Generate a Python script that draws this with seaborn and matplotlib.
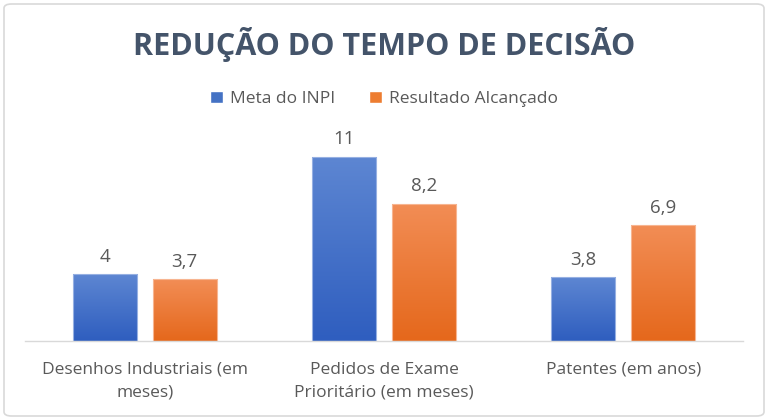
import matplotlib
matplotlib.use("Agg")
import matplotlib.pyplot as plt
import seaborn as sns
import numpy as np
import pandas as pd
from matplotlib.patches import FancyBboxPatch
from matplotlib.colors import to_rgb

categories = ["Desenhos Industriais (em\nmeses)", "Pedidos de Exame\nPrioritário (em meses)", "Patentes (em anos)"]
series = ["Meta do INPI", "Resultado Alcançado"]
meta = [4, 11, 3.8]
resultado = [3.7, 8.2, 6.9]
value_labels_meta = ["4", "11", "3,8"]
value_labels_res = ["3,7", "8,2", "6,9"]

df = pd.DataFrame({
    "cat": categories * 2,
    "serie": [series[0]] * 3 + [series[1]] * 3,
    "val": meta + resultado,
})

sns.set_theme(style="white")
plt.rcParams['font.family'] = ['Open Sans', 'DejaVu Sans']

fig = plt.figure(figsize=(7.68, 4.2), dpi=100)
ax = fig.add_axes([25/768, 79/420, 718/768, 201/420])

palette = {series[0]: "#4472C4", series[1]: "#ED7D31"}
sns.barplot(data=df, x="cat", y="val", hue="serie", palette=palette, width=0.67, gap=0.2,
            ax=ax, legend=True, saturation=1)

grads = {series[0]: ("#5D86D2", "#2F5EBF"), series[1]: ("#F28D55", "#E5681C")}
labels_all = {series[0]: value_labels_meta, series[1]: value_labels_res}

bars = [p for p in ax.patches if p.get_height() > 0]
bars.sort(key=lambda p: p.get_x())
for i, p in enumerate(bars):
    s = series[i % 2]
    ci = i // 2
    top, bot = grads[s]
    t = np.array(to_rgb(top)); b = np.array(to_rgb(bot))
    n = 64
    g = np.linspace(0, 1, n)[:, None]
    img = (t[None, :] * (1 - g) + b[None, :] * g)[:, None, :]
    x0 = p.get_x(); w = p.get_width(); h = p.get_height()
    im = ax.imshow(img, extent=(x0, x0 + w, 0, h), aspect='auto', origin='upper', zorder=2)
    im.set_clip_path(p)
    edge = tuple(np.clip(t + (1 - t) * 0.35, 0, 1))
    p.set_edgecolor(edge)
    p.set_linewidth(0.8)
    p.set_zorder(3)
    p.set_facecolor("none")
    ax.text(x0 + w / 2, h + 0.5, labels_all[s][ci], ha="center", va="bottom",
            fontsize=13.5, color="#595959")

ax.set_xlim(-0.5, 2.5)
ax.set_ylim(0, 12)
ax.set_xlabel("")
ax.set_ylabel("")
ax.set_yticks([])
ax.tick_params(axis="x", length=0, pad=15, labelsize=12.5, colors="#595959")
for lab in ax.get_xticklabels():
    lab.set_linespacing(1.55)
for sp in ["top", "left", "right"]:
    ax.spines[sp].set_visible(False)
ax.spines["bottom"].set_color("#D9D9D9")
ax.spines["bottom"].set_linewidth(1)
ax.spines["bottom"].set_zorder(4)

handles, _ = ax.get_legend_handles_labels()
leg = ax.legend(handles, series, loc="center", bbox_to_anchor=(0.5, 1 - 99/420), bbox_transform=fig.transFigure,
                ncol=2, frameon=False, fontsize=12.5, handlelength=0.7, handleheight=0.7,
                columnspacing=2.0, handletextpad=0.4, labelcolor="#595959")

fig.text(0.5, 1 - 45/420, "REDUÇÃO DO TEMPO DE DECISÃO", ha="center", va="center",
         fontsize=22, fontweight="bold", color="#44546A")

border = FancyBboxPatch((4/768, 4/420), 760/768, 412/420, boxstyle="round,pad=0,rounding_size=0.01",
                        transform=fig.transFigure, facecolor="none", edgecolor="#D9D9D9", linewidth=1.2)
fig.patches.append(border)

fig.savefig("out.png", dpi=100)
